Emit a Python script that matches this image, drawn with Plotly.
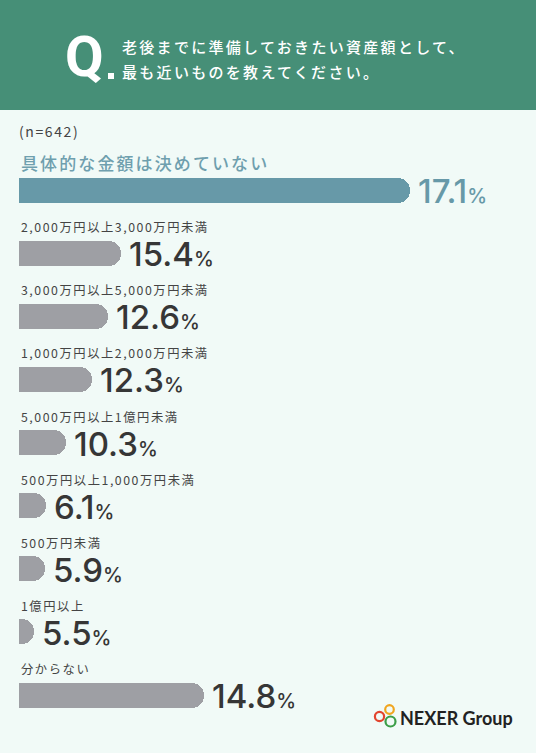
import plotly.graph_objects as go

# ---- data ----
categories = [
    "具体的な金額は決めていない",
    "2,000万円以上3,000万円未満",
    "3,000万円以上5,000万円未満",
    "1,000万円以上2,000万円未満",
    "5,000万円以上1億円未満",
    "500万円以上1,000万円未満",
    "500万円未満",
    "1億円以上",
    "分からない",
]
values = [17.1, 15.4, 12.6, 12.3, 10.3, 6.1, 5.9, 5.5, 14.8]
# bar lengths as drawn in the infographic (it is not to scale with the percentages),
# expressed in % of the bar track
bar_display = [78.2, 20.4, 17.8, 14.6, 9.4, 5.4, 5.2, 3.0, 37.0]
sample_note = "(n=642)"
question_lines = ["老後までに準備しておきたい資産額として、", "最も近いものを教えてください。"]

W, H = 536, 753
HEADER_GREEN = "#468f77"
BG = "#f1faf7"
TEAL = "#6799a8"
GRAY_BAR = "#9e9fa4"
DARK = "#363636"
JP = "Noto Sans CJK JP"
NUM = "Inter"


def px(x):
    return x / W


def py(y):
    return 1 - y / H


n = len(categories)
ys = list(range(n))
bar_colors = [TEAL] + [GRAY_BAR] * (n - 1)

fig = go.Figure()
fig.add_trace(go.Bar(
    x=bar_display, y=ys, orientation="h", width=0.396,
    marker=dict(color=bar_colors, cornerradius=13, line=dict(width=0)),
    hoverinfo="skip", showlegend=False,
))

annotations = []
for i, (cat, v, b) in enumerate(zip(categories, values, bar_display)):
    first = i == 0
    annotations.append(dict(
        x=0, y=i - (0.43 if first else 0.41), xref="x", yref="y",
        text=f"<span style='letter-spacing:{2.1 if first else 1.55}px'>{cat}</span>",
        showarrow=False, xanchor="left", yanchor="middle",
        font=dict(family=JP, size=17 if first else 12.3,
                  color="#6f9fae" if first else "#444444",
                  weight=500 if first else 400),
    ))
    annotations.append(dict(
        x=b, y=i, xref="x", yref="y", xshift=6, yshift=-1,
        text=f"{v:.1f}<span style='font-size:20px'>%</span>",
        showarrow=False, xanchor="left", yanchor="middle",
        font=dict(family=NUM, size=33, color=TEAL if first else DARK, weight=500),
    ))

# header texts
annotations.append(dict(
    x=px(63), y=py(57), xref="paper", yref="paper", text="Q",
    showarrow=False, xanchor="left", yanchor="middle",
    font=dict(family="Roboto", size=56, color="white", weight=700),
))
for k, line in enumerate(question_lines):
    annotations.append(dict(
        x=px(120), y=py(47 + 24.5 * k), xref="paper", yref="paper",
        text=f"<span style='letter-spacing:2.3px'>{line}</span>",
        showarrow=False, xanchor="left", yanchor="middle",
        font=dict(family=JP, size=15, color="white", weight=500),
    ))
annotations.append(dict(
    x=px(17), y=py(131), xref="paper", yref="paper",
    text=f"<span style='letter-spacing:1.6px'>{sample_note}</span>",
    showarrow=False, xanchor="left", yanchor="middle",
    font=dict(family=JP, size=14, color="#444444"),
))
annotations.append(dict(
    x=px(398), y=py(718), xref="paper", yref="paper", text="NEXER Group",
    showarrow=False, xanchor="left", yanchor="middle",
    font=dict(family="Lato", size=18, color="#222222", weight=700),
))

shapes = [
    dict(type="rect", xref="paper", yref="paper", x0=0, x1=1, y0=py(110), y1=1,
         fillcolor=HEADER_GREEN, line=dict(width=0), layer="below"),
    dict(type="rect", xref="paper", yref="paper", x0=px(108), x1=px(114),
         y0=py(79), y1=py(73), fillcolor="white", line=dict(width=0)),
]
# logo rings
for cx, cy, r, col in [(389.5, 709.5, 4.3, "#f0a51e"), (379.5, 716.5, 4.6, "#e2452f"),
                       (390.5, 721.5, 5.0, "#3b9e48")]:
    shapes.append(dict(type="circle", xref="paper", yref="paper",
                       x0=px(cx - r), x1=px(cx + r), y0=py(cy + r), y1=py(cy - r),
                       line=dict(color=col, width=2.2), fillcolor="rgba(0,0,0,0)"))

fig.update_layout(
    width=W, height=H, margin=dict(l=0, r=0, t=0, b=0),
    paper_bgcolor=BG, plot_bgcolor=BG,
    xaxis=dict(domain=[0, 1], range=[-19 / 5, (W - 19) / 5], visible=False, fixedrange=True),
    yaxis=dict(domain=[0, 1], range=[(H - 190) / 63.125, -190 / 63.125], visible=False,
               fixedrange=True),
    annotations=annotations, shapes=shapes, bargap=0,
)

fig.write_html(
    "out.html",
    config={"displayModeBar": False},
    post_script="document.body.style.margin='0';document.body.style.overflow='hidden';",
)
